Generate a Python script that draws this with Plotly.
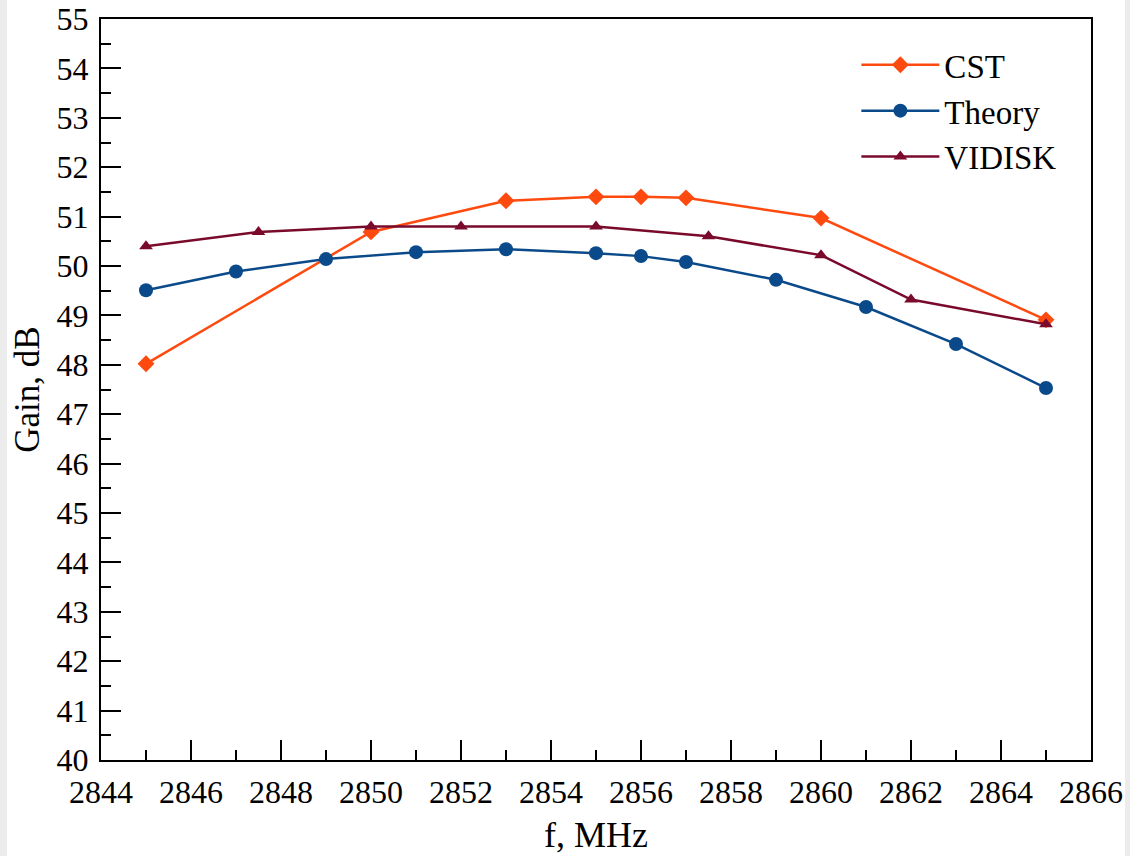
import plotly.graph_objects as go

# Data
cst_f = [2845, 2850, 2853, 2855, 2856, 2857, 2860, 2865]
cst_gain = [48.02, 50.69, 51.32, 51.40, 51.40, 51.38, 50.97, 48.91]

theory_f = [2845, 2847, 2849, 2851, 2853, 2855, 2856, 2857, 2859, 2861, 2863, 2865]
theory_gain = [49.51, 49.89, 50.14, 50.28, 50.34, 50.26, 50.20, 50.08, 49.72, 49.17, 48.42, 47.53]

vidisk_f = [2845, 2847.5, 2850, 2852, 2855, 2857.5, 2860, 2862, 2865]
vidisk_gain = [50.40, 50.69, 50.80, 50.80, 50.80, 50.60, 50.22, 49.32, 48.82]

x_ticks = list(range(2844, 2867, 2))
y_ticks = list(range(40, 56, 1))

FONT = "Liberation Serif"

fig = go.Figure()
fig.add_trace(go.Scatter(x=cst_f, y=cst_gain, name="CST", mode="lines+markers",
                         line=dict(color="#FF4A0F", width=2.5),
                         marker=dict(symbol="diamond", size=13, color="#FF4A0F")))
fig.add_trace(go.Scatter(x=theory_f, y=theory_gain, name="Theory", mode="lines+markers",
                         line=dict(color="#0B4A8A", width=2.5),
                         marker=dict(symbol="circle", size=14, color="#0B4A8A")))
fig.add_trace(go.Scatter(x=vidisk_f, y=vidisk_gain, name="VIDISK", mode="lines+markers",
                         line=dict(color="#7A0A2C", width=2.5),
                         marker=dict(symbol="triangle-up", size=12, color="#7A0A2C")))

axis_common = dict(showgrid=False, zeroline=False, showline=True, linecolor="black",
                   linewidth=2, mirror=True, ticks="inside", tickcolor="black",
                   tickwidth=2, ticklen=20, automargin=False,
                   tickfont=dict(family=FONT, size=32, color="black"))

fig.update_xaxes(range=[2844, 2866], tickvals=x_ticks, ticklabelstandoff=3,
                 minor=dict(ticks="inside", dtick=1, ticklen=10, tickwidth=2, tickcolor="black"),
                 title=dict(text="f, MHz", font=dict(family=FONT, size=36, color="black"), standoff=12),
                 **axis_common)
fig.update_yaxes(range=[40, 55], tickvals=y_ticks, ticklabelstandoff=4,
                 minor=dict(ticks="inside", dtick=0.5, ticklen=10, tickwidth=2, tickcolor="black"),
                 title=dict(text="Gain, dB", font=dict(family=FONT, size=35, color="black"), standoff=6),
                 **axis_common)

# light grey page edges, as in the reference screenshot
def px_x(p):
    return (p - 101) / 990

def px_y(p):
    return (760 - p) / 741

fig.add_shape(type="rect", xref="paper", yref="paper", x0=px_x(0), x1=px_x(7),
              y0=px_y(856), y1=px_y(0), fillcolor="#ececec", line=dict(width=0), layer="below")
fig.add_shape(type="rect", xref="paper", yref="paper", x0=px_x(1125), x1=px_x(1130),
              y0=px_y(856), y1=px_y(0), fillcolor="#ececec", line=dict(width=0), layer="below")

fig.update_layout(
    width=1130, height=856,
    margin=dict(l=101, r=39, t=19, b=96),
    paper_bgcolor="white", plot_bgcolor="white",
    font=dict(family=FONT, color="black"),
    legend=dict(x=0.763, y=0.976, xanchor="left", yanchor="top",
                font=dict(family=FONT, size=33, color="black"),
                bgcolor="rgba(0,0,0,0)", tracegroupgap=0, itemwidth=78),
    showlegend=True,
)

fig.write_html("out.html")
